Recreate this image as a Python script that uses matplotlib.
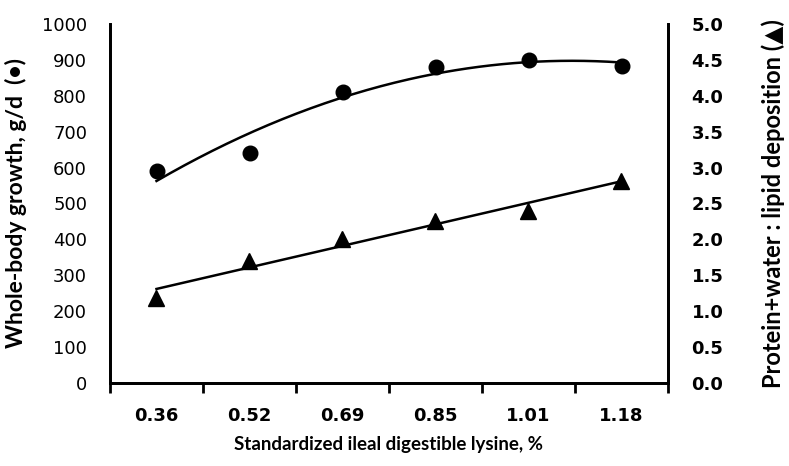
import numpy as np
import matplotlib
matplotlib.use('Agg')
import matplotlib.pyplot as plt

plt.rcParams['font.family'] = ['Lato', 'DejaVu Sans']

lysine = ['0.36', '0.52', '0.69', '0.85', '1.01', '1.18']
growth = [590, 640, 810, 880, 900, 882]          # g/d, circles
ratio = [1.19, 1.70, 2.00, 2.25, 2.40, 2.82]     # protein+water : lipid, triangles

pos = np.arange(len(lysine)) + 0.5

fig = plt.figure(figsize=(7.89, 4.66), dpi=100)
ax = fig.add_axes([110 / 789, 1 - 383 / 466, 558 / 789, 359 / 466])
ax2 = ax.twinx()

# trend lines (quadratic for growth, linear for ratio), fitted to the points
xs = np.linspace(pos[0], pos[-1], 200)
c_g = np.polyfit(pos, growth, 2)
c_r = np.polyfit(pos, ratio, 1)
ax.plot(xs, np.polyval(c_g, xs), color='black', lw=1.8)
ax2.plot(xs, np.polyval(c_r, xs), color='black', lw=1.8)

ax.plot(pos, growth, 'o', color='black', ms=10.5)
ax2.plot(pos, ratio, '^', color='black', ms=11)

tick_font = ['DejaVu Sans']
ax.set_xlim(0, len(lysine))
ax.set_ylim(0, 1000)
ax2.set_ylim(0, 5)
ax.set_yticks(np.arange(0, 1001, 100))
ax.set_yticklabels([str(v) for v in range(0, 1001, 100)], family=tick_font, fontsize=13)
ax2.set_yticks(np.arange(0, 5.01, 0.5))
ax2.set_yticklabels(['%.1f' % v for v in np.arange(0, 5.01, 0.5)],
                    family=tick_font, fontsize=13, fontweight='bold')

ax.set_xticks(np.arange(0, len(lysine) + 1))
ax.set_xticklabels([])
ax.set_xticks(pos, minor=True)
ax.set_xticklabels(lysine, minor=True, family=tick_font, fontweight='bold', fontsize=13)
ax.tick_params(axis='x', which='major', length=7, width=2, direction='out')
ax.tick_params(axis='x', which='minor', length=0, pad=17)
ax.tick_params(axis='y', length=0, pad=16.5)
ax2.tick_params(axis='y', length=0, pad=17)

for a in (ax, ax2):
    a.spines['top'].set_visible(False)
    for s in ('left', 'right', 'bottom'):
        a.spines[s].set_linewidth(2)

ax.set_xlabel('Standardized ileal digestible lysine, %', fontsize=13.5,
              fontweight='bold', labelpad=8)
ax.set_ylabel('Whole-body growth, g/d  (\u2022)', fontsize=16.5,
              fontweight='bold', labelpad=11)
ax2.set_ylabel('Protein+water : lipid deposition (\u25b2)', fontsize=17,
               fontweight='bold', labelpad=27)

fig.savefig('out.png', dpi=100)
